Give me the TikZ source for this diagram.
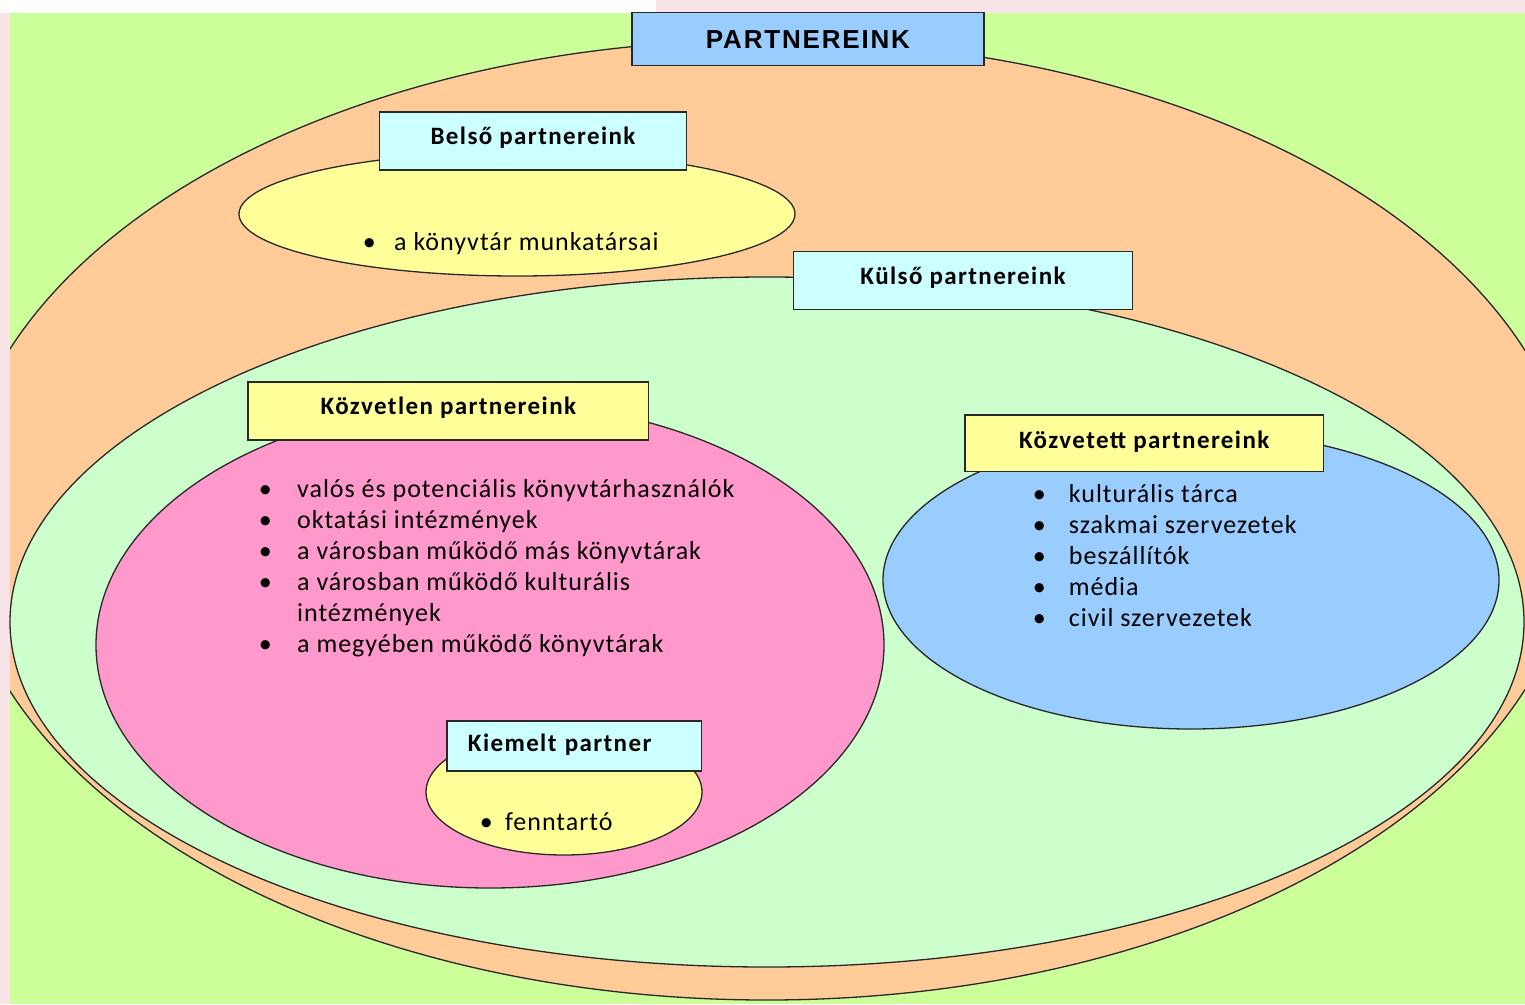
\documentclass[tikz,border=0pt]{standalone}
\usepackage{fontspec}
\setmainfont{Carlito}
\newfontfamily\bodyf{Carlito}[LetterSpace=3.8]
\newfontfamily\labf{Carlito}[LetterSpace=5.6]
\newfontfamily\titf{Liberation Sans}[LetterSpace=7]
\usetikzlibrary{shapes.geometric}
\definecolor{bggreen}{HTML}{CCFF99}
\definecolor{stripc}{RGB}{248,228,230}
\definecolor{orangec}{HTML}{FFCC99}
\definecolor{lgreenc}{HTML}{CCFFCC}
\definecolor{pinkc}{HTML}{FF99CC}
\definecolor{bluec}{HTML}{99CCFF}
\definecolor{yellowc}{HTML}{FFFF99}
\definecolor{cyanc}{HTML}{CCFFFF}
\definecolor{edgec}{RGB}{40,40,40}
\newcommand\bul[1]{\llap{\textbullet\hspace{#1}}}
\tikzset{
  oval/.style={ellipse, draw=edgec, line width=1.3pt, inner sep=0pt, outer sep=0pt},
  labbox/.style={rectangle, draw=edgec, line width=1.3pt, inner sep=0pt,
    font=\labf\bfseries\fontsize{25}{30}\selectfont, text height=16pt, text depth=10pt},
  titbox/.style={rectangle, draw=edgec, line width=1.3pt, inner sep=0pt, fill=bluec,
    font=\titf\bfseries\fontsize{26}{32}\selectfont, text height=19pt, text depth=0pt},
  item/.style={inner sep=0pt, anchor=base west, font=\bodyf\fontsize{26}{31}\selectfont}
}
\begin{document}
\begin{tikzpicture}[x=1pt,y=-1pt]
\useasboundingbox (0,0) rectangle (1525,1004);
\fill[stripc] (0,0) rectangle (1525,1004);
\fill[white] (0,0) rectangle (656,13);
\fill[bggreen] (10,13) rectangle (1525,1004);
\begin{scope}
  \clip (10,13) rectangle (1525,1004);
  \node[oval, fill=orangec, minimum width=1620pt, minimum height=960pt] (outer) at (767,520) {};
\end{scope}
\node[titbox, minimum width=352pt, minimum height=53pt] (title) at (808,39.2) {PARTNEREINK};
% Belso
\node[oval, fill=yellowc, minimum width=556pt, minimum height=124pt] (belsoE) at (517,214) {};
\node[labbox, fill=cyanc, minimum width=306.5pt, minimum height=58pt] (belsoL) at (533,141) {Belső partnereink};
% Kulso
\node[oval, fill=lgreenc, minimum width=1514pt, minimum height=690pt] (kulsoE) at (767,622) {};
\node[labbox, fill=cyanc, minimum width=339pt, minimum height=57.6pt, text depth=9pt] (kulsoL) at (963,280.5) {Külső partnereink};
% Kozvetlen
\node[oval, fill=pinkc, minimum width=788pt, minimum height=486pt] (pinkE) at (490,645) {};
\node[labbox, fill=yellowc, minimum width=400.7pt, minimum height=58pt] (kozvetlenL) at (448.4,411) {Közvetlen partnereink};
% Kiemelt
\node[oval, fill=yellowc, minimum width=276pt, minimum height=126pt] (kiemE) at (564,792) {};
\node[labbox, fill=cyanc, minimum height=50pt, inner xsep=21pt, text width=212.5pt, align=left, text depth=4.6pt] (kiemL) at (574.2,746) {Kiemelt partner};
% Kozvetett
\node[oval, fill=bluec, minimum width=616pt, minimum height=298pt] (blueE) at (1191,580) {};
\node[labbox, fill=yellowc, minimum width=358.5pt, minimum height=56.7pt, text depth=6.6pt] (kozvetettL) at (1144.2,443.3) {Közvetett partnereink};
% lists
\node[item] (b1) at (394,250) {\bul{18.5pt}a könyvtár munkatársai};
\node[item] (p1) at (297,497) {\bul{25.5pt}valós és potenciális könyvtárhasználók};
\node[item] (p2) at (297,528) {\bul{25.5pt}oktatási intézmények};
\node[item] (p3) at (297,559) {\bul{25.5pt}a városban működő más könyvtárak};
\node[item] (p4) at (297,590) {\bul{25.5pt}a városban működő kulturális};
\node[item] (p5) at (297,621) {intézmények};
\node[item] (p6) at (297,652) {\bul{25.5pt}a megyében működő könyvtárak};
\node[item] (k1) at (505,830) {\bul{12.5pt}fenntartó};
\node[item] (q1) at (1068.7,502.5) {\bul{23pt}kulturális tárca};
\node[item] (q2) at (1068.7,533.5) {\bul{23pt}szakmai szervezetek};
\node[item] (q3) at (1068.7,564.5) {\bul{23pt}beszállítók};
\node[item] (q4) at (1068.7,595.5) {\bul{23pt}média};
\node[item] (q5) at (1068.7,626.5) {\bul{23pt}civil szervezetek};
\end{tikzpicture}
\end{document}
